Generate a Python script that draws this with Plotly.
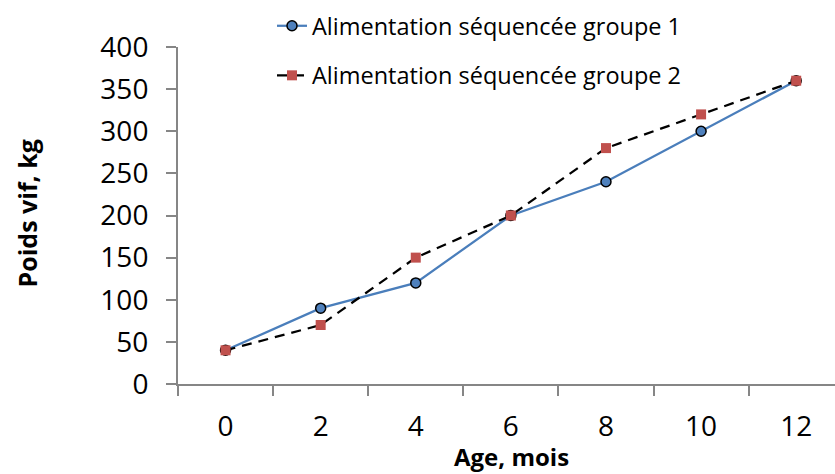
import plotly.graph_objects as go

ages = ["0", "2", "4", "6", "8", "10", "12"]
groupe1 = [40, 90, 120, 200, 240, 300, 360]
groupe2 = [40, 70, 150, 200, 280, 320, 360]
y_ticks = [0, 50, 100, 150, 200, 250, 300, 350, 400]
name1 = "Alimentation séquencée groupe 1"
name2 = "Alimentation séquencée groupe 2"

FONT = "Open Sans"
AXIS = "#868686"

W, H = 835, 474
ML, MR, MT, MB = 178, 0, 47, 90
pw = W - ML - MR
ph = H - MT - MB

fig = go.Figure()
fig.add_trace(go.Scatter(
    x=ages, y=groupe1, name=name1, mode="lines+markers",
    line=dict(color="#4A7EBB", width=2.25),
    marker=dict(symbol="circle", size=10, color="#4F81BD", line=dict(color="black", width=1.5)),
    legendgroup="g1",
))
fig.add_trace(go.Scatter(
    x=ages, y=groupe2, name=name2, mode="lines+markers",
    line=dict(color="black", width=2.25, dash="10px,7px"),
    marker=dict(symbol="square", size=10, color="#C0504D", line=dict(width=0)),
    legendgroup="g2",
))

fig.update_layout(
    width=W, height=H,
    margin=dict(l=ML, r=MR, t=MT, b=MB, autoexpand=False),
    plot_bgcolor="white", paper_bgcolor="white",
    font=dict(family=FONT, color="black"),
    showlegend=True,
    legend=dict(
        x=(272 - ML) / pw, y=(H - MB - 4) / ph,
        xref="paper", yref="paper", xanchor="left", yanchor="top",
        font=dict(family=FONT, size=23.5, color="black"),
        tracegroupgap=16, traceorder="grouped",
        bgcolor="rgba(0,0,0,0)", itemwidth=30,
    ),
    xaxis=dict(
        type="category", categoryorder="array", categoryarray=ages,
        range=[-0.5, 6.408], showgrid=False, zeroline=False,
        showline=True, linecolor=AXIS, linewidth=2,
        ticks="outside", tickson="boundaries", ticklen=10, tickcolor=AXIS, tickwidth=2,
        tickfont=dict(family=FONT, size=28, color="black"),
        ticklabelstandoff=16,
    ),
    yaxis=dict(
        range=[0, 400], tickvals=y_ticks, showgrid=False, zeroline=False,
        showline=True, linecolor=AXIS, linewidth=2,
        ticks="outside", ticklen=10, tickcolor=AXIS, tickwidth=2,
        tickfont=dict(family=FONT, size=28, color="black"),
        ticklabelstandoff=12,
    ),
    annotations=[
        dict(text="<b>Age, mois</b>", xref="paper", yref="paper",
             x=(511 - ML) / pw, y=(H - MB - 456) / ph, xanchor="center", yanchor="middle",
             showarrow=False, font=dict(family=FONT, size=24, color="black")),
        dict(text="<b>Poids vif, kg</b>", xref="paper", yref="paper",
             x=(26 - ML) / pw, y=(H - MB - 213.5) / ph, xanchor="center", yanchor="middle",
             showarrow=False, textangle=-90, font=dict(family=FONT, size=25, color="black")),
    ],
)

fig.write_html("out.html")
